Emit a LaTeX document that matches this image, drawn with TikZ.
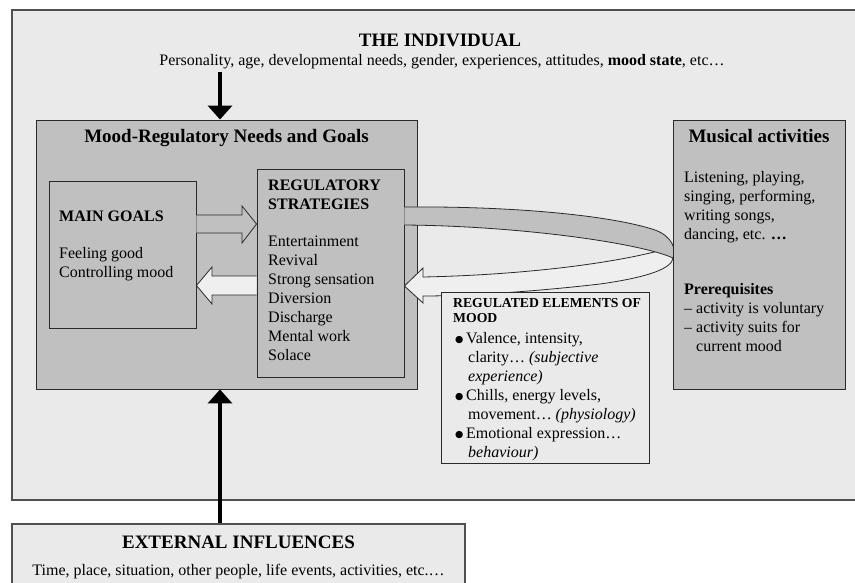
\documentclass[tikz,border=0pt]{standalone}
\usepackage{fontspec}
\setmainfont{Liberation Serif}
\newfontfamily\symbolfont{DejaVu Sans}
\usetikzlibrary{arrows.meta,calc}
\definecolor{paper}{HTML}{EAEAEA}
\definecolor{panelgray}{HTML}{C0C0C0}
\definecolor{pale}{HTML}{EFEFEF}
\definecolor{edge}{HTML}{2A2A2A}
\definecolor{frameedge}{HTML}{505050}
% filled round bullet for the list of regulated elements
\newcommand{\dotmark}{\makebox[11pt][l]{\raisebox{0.6pt}{\symbolfont\fontsize{9.5}{10}\selectfont ●}}}

\begin{document}
\begin{tikzpicture}[x=1pt,y=-1pt,
  box/.style={draw=edge, line width=0.9pt, rectangle, inner sep=0pt},
  graybox/.style={box, fill=panelgray},
  palebox/.style={box, fill=paper},
  blockedge/.style={draw=edge, line width=0.8pt, line join=miter},
  heavy/.style={line width=4.5pt, draw=black, -{Triangle[length=14pt,width=24pt]}},
  body/.style={inner sep=0pt, anchor=base west, font=\fontsize{16}{19}\selectfont},
  headline/.style={inner sep=0pt, anchor=base, font=\bfseries\fontsize{19}{22}\selectfont},
  smallhead/.style={inner sep=0pt, anchor=base west, font=\bfseries\fontsize{13.7}{15}\selectfont}
]
\useasboundingbox (0,0) rectangle (855,582);
\clip (0,0) rectangle (855,582);
\fill[white] (0,0) rectangle (855,582);

% the individual: large background frame
\draw[draw=frameedge, line width=1.1pt, fill=paper] (12,10) rectangle (875,500);

% external influences
\node[palebox, draw=frameedge, line width=1.1pt, minimum width=453pt, minimum height=80pt] (ext) at (238.5,564) {};

% main panels
\node[graybox, minimum width=381pt, minimum height=269pt] (mood) at (226.5,254.5) {};
\node[graybox, minimum width=147pt, minimum height=147pt] (goals) at (122.5,254.5) {};
\node[graybox, minimum width=147pt, minimum height=208pt] (strat) at (330.5,273) {};

% goals -> strategies (outline block arrow)
\draw[blockedge, fill=panelgray] ($(goals.east)+(0,-39.5)$) -- (242,215) -- (242,206)
  -- ($(strat.west)+(0,-49)$) -- (242,243) -- (242,233) -- ($(goals.east)+(0,-21.5)$);
% strategies -> goals (pale block arrow)
\draw[blockedge, fill=pale] ($(strat.west)+(0,3)$) -- (212,276) -- (212,267)
  -- ($(goals.east)+(0,31)$) -- (212,304) -- (212,295) -- ($(strat.west)+(0,22)$);

% curved loop between strategies and musical activities: returning lower ribbon
\draw[blockedge, fill=pale] (423,277) .. controls (520,275) and (610,264) .. (662,250)
  -- (673,258) .. controls (672,268) and (650,277) .. (600,284)
  .. controls (540,291) and (470,296) .. (423,296)
  -- (423,303) -- ($(strat.east)+(0,13)$) -- (423,268) -- cycle;
% outgoing upper ribbon
\draw[blockedge, fill=panelgray] ($(strat.east)+(0,-66)$) .. controls (510,206) and (610,215) .. (655,230)
  .. controls (672,236) and (677,250) .. (673,258)
  .. controls (640,243) and (520,226) .. ($(strat.east)+(0,-48)$);

% regulated elements of mood
\node[palebox, minimum width=208pt, minimum height=171pt] (elems) at (545,377.5) {};
% musical activities
\node[graybox, minimum width=172pt, minimum height=269pt] (music) at (759,254.5) {};

% texts
\node[headline] (indivTitle) at (440,46.5) {THE INDIVIDUAL};
\node[body, anchor=base] (indivText) at (442,65) {Personality, age, developmental needs, gender, experiences, attitudes, \textbf{mood state}, etc…};

\node[headline] (moodTitle) at ($(mood.north)+(0,23)$) {Mood-Regulatory Needs and Goals};
\node[body] (goalsText) at (59,221.5) {\parbox[t]{132pt}{\raggedright
  \textbf{MAIN GOALS}\\[17.5pt]
  Feeling good\\
  Controlling mood}};
\node[body] (stratText) at (268,190.5) {\parbox[t]{134pt}{\raggedright
  {\bfseries REGULATORY\\ STRATEGIES}\\[17.5pt]
  Entertainment\\ Revival\\ Strong sensation\\ Diversion\\ Discharge\\ Mental work\\ Solace}};

\node[headline] (musicTitle) at ($(music.north)+(0,23)$) {Musical activities};
\node[body] (musicText) at (684,182) {\parbox[t]{160pt}{\raggedright
  Listening, playing,\\ singing, performing,\\ writing songs,\\ dancing, etc. \textbf{…}\\[36.5pt]
  \textbf{Prerequisites}\\
  –~activity is voluntary\\
  –~activity suits for\\
  \hphantom{–~}current mood}};

\node[smallhead] (elemsHead) at (453,307.5) {\parbox[t]{195pt}{\raggedright REGULATED ELEMENTS OF\\ MOOD}};
\node[body] (elemsText) at (455,343) {\parbox[t]{195pt}{\raggedright
  \dotmark Valence, intensity,\\
  \hspace*{13pt}clarity… \textit{(subjective}\\
  \hspace*{13pt}\textit{experience)}\\
  \dotmark Chills, energy levels,\\
  \hspace*{13pt}movement… \textit{(physiology)}\\
  \dotmark Emotional expression…\\
  \hspace*{13pt}\textit{behaviour)}}};

\node[headline] (extTitle) at ($(ext.north)+(0,25.5)$) {EXTERNAL INFLUENCES};
\node[body, anchor=base] (extText) at ($(ext.north)+(0,52.5)$) {Time, place, situation, other people, life events, activities, etc.…};

% influences on mood-regulatory needs
\coordinate (indivFoot) at (220,72);
\draw[heavy] (indivFoot) -- (indivFoot |- mood.north);
\draw[heavy] (ext.north -| indivFoot) -- (indivFoot |- mood.south);
\end{tikzpicture}
\end{document}
